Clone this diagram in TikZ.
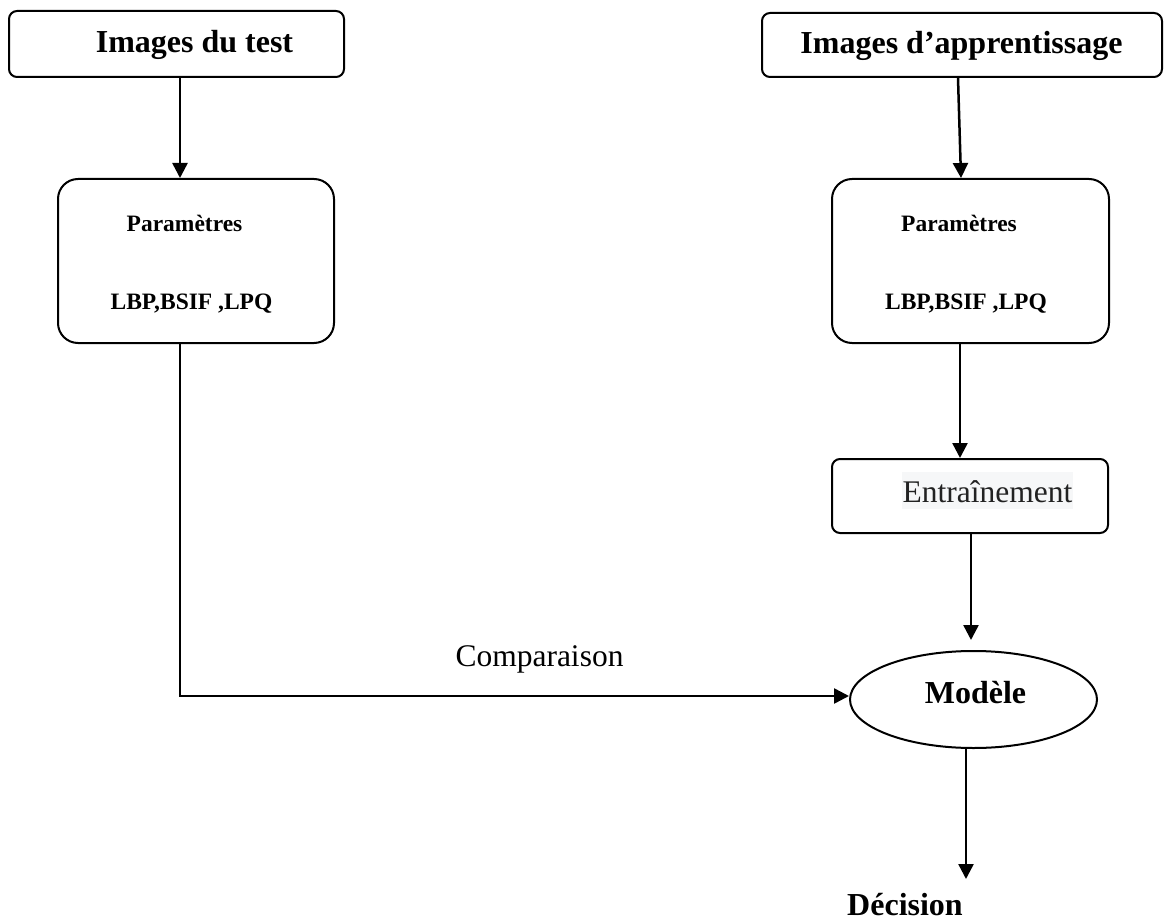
\documentclass[tikz,border=0pt]{standalone}
\usepackage{fontspec}
\setmainfont{Liberation Serif}
\usetikzlibrary{arrows.meta,shapes.geometric}
\definecolor{bgtxt}{HTML}{F6F7F8}
\definecolor{darktxt}{HTML}{222222}
\begin{document}
\begin{tikzpicture}[x=1pt,y=-1pt,
  box/.style={draw,line width=2pt,rounded corners=8pt,inner sep=0pt},
  pbox/.style={draw,line width=2pt,rounded corners=20pt,inner sep=0pt},
  ell/.style={draw,line width=2pt,ellipse,inner sep=0pt},
  arr/.style={line width=2.5pt,-{Triangle[length=15pt,width=15pt]}},
  big/.style={font=\fontsize{32}{38}\selectfont\bfseries,anchor=base,inner sep=0pt},
  small/.style={font=\fontsize{23.5}{28}\selectfont\bfseries,anchor=base,inner sep=0pt},
  plain/.style={font=\fontsize{31.5}{38}\selectfont,anchor=base,inner sep=0pt}]
\useasboundingbox (0,0) rectangle (1165,920);

% boxes
\node[box,minimum width=335pt,minimum height=66pt] (b1) at (176.5,44) {};
\node[box,minimum width=400pt,minimum height=64pt] (b2) at (962,45) {};
\node[pbox,minimum width=276pt,minimum height=164pt] (p1) at (196,261) {};
\node[pbox,minimum width=277pt,minimum height=164pt] (p2) at (970.5,261) {};
\node[box,minimum width=276pt,minimum height=74pt] (e) at (970,496) {};
\node[ell,minimum width=247pt,minimum height=97pt] (m) at (973.5,699.5) {};

% texts
\node[big] (t1) at (194.5,53) {Images du test};
\node[big] (t2) at (961.5,54) {Images d’apprentissage};
\node[small] (pa1) at (184.5,232) {Paramètres};
\node[small] (lb1) at (191.5,309) {LBP,BSIF ,LPQ};
\node[small] (pa2) at (959,232) {Paramètres};
\node[small] (lb2) at (966,309) {LBP,BSIF ,LPQ};
\node[plain,text=darktxt,fill=bgtxt,inner xsep=1pt,inner ysep=0pt,text height=30pt,text depth=7pt] (en) at (987.5,502) {Entraînement};
\node[big] (mo) at (975.5,703) {Modèle};
\node[plain] (cmp) at (539.5,666) {Comparaison};
\node[big] (dec) at (905,915) {Décision};

% helper coordinates
\coordinate (c180) at (180,0);
\coordinate (c958) at (958,0);
\coordinate (c961) at (961,0);
\coordinate (c960) at (960,0);
\coordinate (c971) at (971,0);
\coordinate (c966) at (966,0);
\coordinate (ly) at (0,696);
\coordinate (mtip) at (971,640);
\coordinate (dtip) at (966,879);

% connectors
\draw[arr] (b1.south -| c180) -- (p1.north -| c180);
\draw[arr] (b2.south -| c958) -- (p2.north -| c961);
\draw[arr] (p2.south -| c960) -- (e.north -| c960);
\draw[arr] (e.south -| c971) -- (mtip);
\draw[arr] (p1.south -| c180) |- (m.west |- ly);
\draw[arr] (m.south -| c966) -- (dtip);
\end{tikzpicture}
\end{document}
